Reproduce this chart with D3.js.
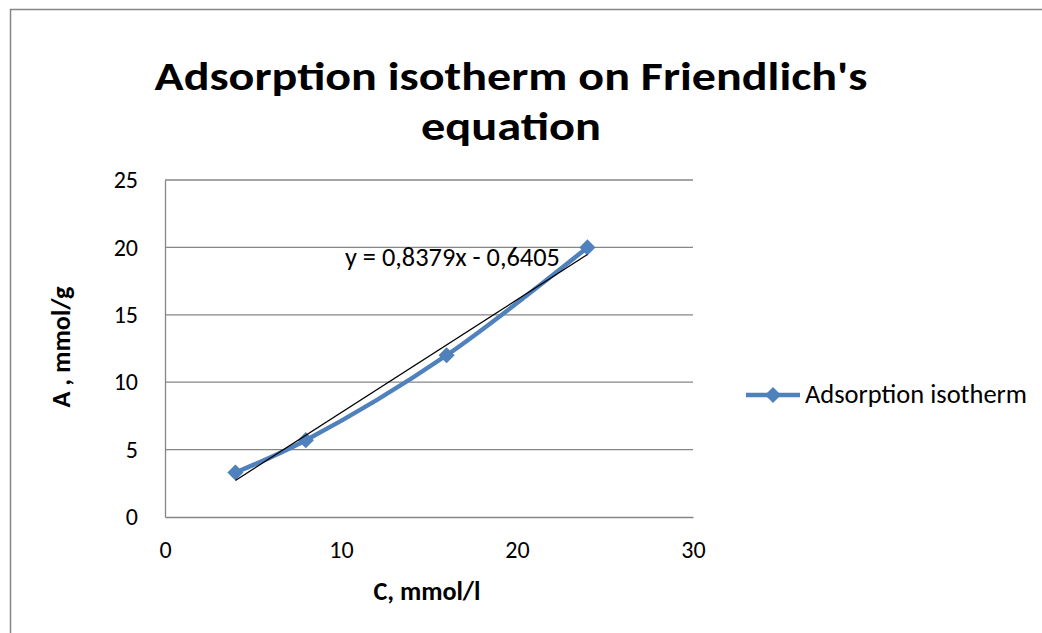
<!DOCTYPE html>
<html><head><meta charset="utf-8">
<script src="https://cdn.jsdelivr.net/npm/d3@7"></script>
<style>html,body{margin:0;padding:0;background:#fff}</style>
</head><body>
<svg id="c" width="1042" height="633"></svg>
<script>
const concentration = [4, 8, 16, 24];
const adsorption = [3.3, 5.7, 12, 20];
const xTicks = [0, 10, 20, 30];
const yTicks = [0, 5, 10, 15, 20, 25];
const titleLines = ["Adsorption isotherm on Friendlich's", "equation"];
const seriesName = "Adsorption isotherm";
const trendSlope = 0.8379, trendIntercept = -0.6405;
const trendLabel = "y = 0,8379x - 0,6405";

const svg = d3.select("#c");
const font = "Carlito, Lato, 'Open Sans', sans-serif";
const blue = "#4F81BD";

// scale a text's font-size so its rendered width matches a target
function fit(sel, target) {
  sel.each(function() {
    const fs = parseFloat(this.getAttribute("font-size"));
    const w = this.getComputedTextLength();
    if (w > 0) this.setAttribute("font-size", (fs * target / w).toFixed(2));
  });
  return sel;
}

svg.append("rect").attr("x",10.5).attr("y",9.5).attr("width",1040).attr("height",630)
  .attr("fill","#fff").attr("stroke","#868686").attr("stroke-width",1.5);

const x = d3.scaleLinear().domain([0,30]).range([165,693]);
const y = d3.scaleLinear().domain([0,25]).range([517,180]);

// gridlines
svg.append("g").selectAll("line").data(yTicks.filter(d=>d>0)).join("line")
  .attr("x1",x(0)).attr("x2",x(30)).attr("y1",d=>y(d)).attr("y2",d=>y(d))
  .attr("stroke","#868686").attr("stroke-width",1.3);

// axes
const gx = svg.append("g").attr("transform",`translate(0,${y(0)})`)
  .call(d3.axisBottom(x).tickValues(xTicks).tickSize(0).tickPadding(24));
const gy = svg.append("g").attr("transform",`translate(${x(0)},0)`)
  .call(d3.axisLeft(y).tickValues(yTicks).tickSize(0).tickPadding(27));
[gx,gy].forEach(g=>{
  g.select(".domain").attr("stroke","#868686").attr("stroke-width",1.3);
  g.selectAll("text").attr("font-family",font).attr("font-size",24).attr("fill","#000");
});

// series line (smoothed)
const pts = concentration.map((c,i)=>[c, adsorption[i]]);
const line = d3.line().x(d=>x(d[0])).y(d=>y(d[1])).curve(d3.curveCatmullRom.alpha(0.5));
svg.append("path").datum(pts).attr("d",line).attr("fill","none")
  .attr("stroke",blue).attr("stroke-width",4.5).attr("stroke-linejoin","round");

svg.append("g").selectAll("path").data(pts).join("path")
  .attr("d", d3.symbol().type(d3.symbolSquare).size(130))
  .attr("transform",d=>`translate(${x(d[0])},${y(d[1])}) rotate(45)`)
  .attr("fill",blue);

// trendline
const tx = d3.extent(concentration);
svg.append("line").attr("x1",x(tx[0])).attr("y1",y(trendSlope*tx[0]+trendIntercept))
  .attr("x2",x(tx[1])).attr("y2",y(trendSlope*tx[1]+trendIntercept))
  .attr("stroke","#000").attr("stroke-width",1.3);
fit(svg.append("text").attr("x",345).attr("y",266).attr("font-family",font).attr("font-size",26)
  .text(trendLabel), 215);

// title (glyphs stretched horizontally to match the reference's width)
const titleWidths = [713, 180];
svg.append("g").selectAll("text").data(titleLines).join("text")
  .attr("x",511).attr("y",(d,i)=>90+i*50).attr("text-anchor","middle")
  .attr("font-family",font).attr("font-weight","bold").attr("font-size",40.5)
  .attr("textLength",(d,i)=>titleWidths[i]).attr("lengthAdjust","spacingAndGlyphs")
  .text(d=>d);

// axis titles
fit(svg.append("text").attr("x",427).attr("y",600).attr("text-anchor","middle")
  .attr("font-family",font).attr("font-weight","bold").attr("font-size",26).text("C, mmol/l"), 107);
fit(svg.append("text").attr("transform","translate(70,347) rotate(-90)").attr("text-anchor","middle")
  .attr("font-family",font).attr("font-weight","bold").attr("font-size",24).text("A , mmol/g"), 121);

// legend
svg.append("line").attr("x1",746).attr("x2",800).attr("y1",395).attr("y2",395)
  .attr("stroke",blue).attr("stroke-width",4.5);
svg.append("path").attr("d",d3.symbol().type(d3.symbolSquare).size(130))
  .attr("transform","translate(773,395) rotate(45)").attr("fill",blue);
fit(svg.append("text").attr("x",805).attr("y",403).attr("font-family",font).attr("font-size",26)
  .text(seriesName), 222);
</script>
</body></html>
